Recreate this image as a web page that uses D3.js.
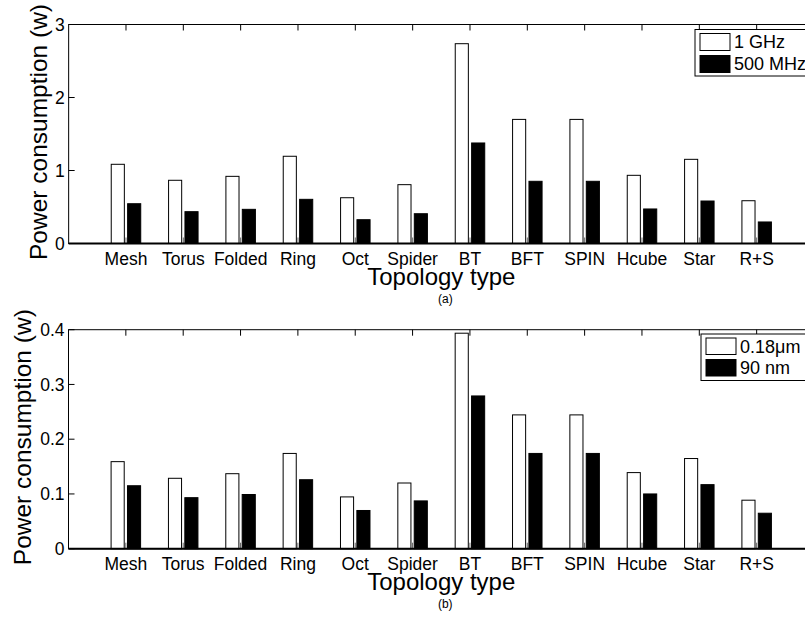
<!DOCTYPE html>
<html>
<head>
<meta charset="utf-8">
<script src="https://cdn.jsdelivr.net/npm/d3@7"></script>
<style>
  html, body { margin: 0; padding: 0; background: #fff; overflow: hidden; }
  svg { display: block; font-family: "Liberation Sans", Arial, Helvetica, sans-serif; }
</style>
</head>
<body>
<svg id="chart" width="805" height="619"></svg>
<script>
// ---- data ----
const categories = ["Mesh", "Torus", "Folded", "Ring", "Oct", "Spider", "BT", "BFT", "SPIN", "Hcube", "Star", "R+S"];
const power1GHz   = [1.085, 0.866, 0.92, 1.195, 0.627, 0.806, 2.737, 1.70, 1.70, 0.934, 1.153, 0.586];
const power500MHz = [0.545, 0.436, 0.468, 0.605, 0.326, 0.408, 1.377, 0.852, 0.852, 0.473, 0.582, 0.295];
const power018um  = [0.159, 0.1286, 0.137, 0.174, 0.0946, 0.120, 0.3936, 0.2444, 0.2444, 0.139, 0.1647, 0.0886];
const power90nm   = [0.115, 0.0932, 0.099, 0.126, 0.0698, 0.0873, 0.279, 0.174, 0.174, 0.100, 0.117, 0.0648];
const ticksA = [0, 1, 2, 3];
const ticksB = [0, 0.1, 0.2, 0.3, 0.4];
const legendA = ["1 GHz", "500 MHz"];
const legendB = ["0.18\u03bcm", "90 nm"];

const svg = d3.select("#chart");

function panel(opt) {
  const g = svg.append("g");
  const x = d3.scaleLinear().domain([0, categories.length + 1]).range([opt.left, opt.right]);
  const y = d3.scaleLinear().domain([0, opt.ymax]).range([opt.bottom, opt.top]);
  const off = 0.1429, bw = 0.2286;
  const series = [opt.s1, opt.s2];
  const fills = ["#fff", "#000"];

  // bars
  series.forEach((s, k) => {
    g.selectAll(null).data(s).enter().append("rect")
      .attr("x", (d, i) => x(i + 1 + (k === 0 ? -off : off) - bw / 2))
      .attr("width", x(bw) - x(0))
      .attr("y", d => y(d))
      .attr("height", d => y(0) - y(d))
      .attr("fill", fills[k])
      .attr("stroke", "#000")
      .attr("stroke-width", 1);
  });

  // x axis ticks (inward, top and bottom)
  const idx = d3.range(1, categories.length + 1);
  g.selectAll(null).data(idx).enter().append("line")
    .attr("x1", d => x(d)).attr("x2", d => x(d))
    .attr("y1", opt.top).attr("y2", opt.top + 6)
    .attr("stroke", "#000").attr("stroke-width", 1);
  g.selectAll(null).data(idx).enter().append("line")
    .attr("x1", d => x(d)).attr("x2", d => x(d))
    .attr("y1", opt.bottom).attr("y2", opt.bottom - 6)
    .attr("stroke", "#666").attr("stroke-width", 1);

  // y ticks (inward)
  g.selectAll(null).data(opt.ticks).enter().append("line")
    .attr("x1", opt.left).attr("x2", opt.left + 6)
    .attr("y1", d => y(d)).attr("y2", d => y(d))
    .attr("stroke", "#000").attr("stroke-width", 1);

  // frame
  g.append("rect")
    .attr("x", opt.left).attr("y", opt.top)
    .attr("width", opt.right - opt.left).attr("height", opt.bottom - opt.top)
    .attr("fill", "none").attr("stroke", "#000").attr("stroke-width", 1);
  g.append("line")
    .attr("x1", opt.left).attr("x2", opt.right)
    .attr("y1", opt.bottom).attr("y2", opt.bottom)
    .attr("stroke", "#000").attr("stroke-width", 2);

  // y tick labels
  g.selectAll(null).data(opt.ticks).enter().append("text")
    .attr("x", opt.left - 4).attr("y", d => y(d))
    .attr("dy", "0.35em")
    .attr("text-anchor", "end")
    .attr("font-size", 17.5)
    .text(d => d3.format("")(d));

  // x tick labels
  g.selectAll(null).data(categories).enter().append("text")
    .attr("x", (d, i) => x(i + 1)).attr("y", opt.bottom + 21.5)
    .attr("text-anchor", "middle")
    .attr("font-size", 17.5)
    .text(d => d);

  // axis titles
  g.append("text")
    .attr("x", (opt.left + opt.right) / 2).attr("y", opt.bottom + 41.5)
    .attr("text-anchor", "middle")
    .attr("font-size", 24)
    .text("Topology type");
  g.append("text")
    .attr("x", (opt.left + opt.right) / 2 + 4).attr("y", opt.bottom + 59)
    .attr("text-anchor", "middle")
    .attr("font-size", 12)
    .text(opt.sub);
  g.append("text")
    .attr("transform", `translate(${opt.ylabX},${(opt.top + opt.bottom) / 2 - 2}) rotate(-90)`)
    .attr("text-anchor", "middle")
    .attr("font-size", 24.5)
    .text("Power consumption (w)");

  // legend
  const lg = g.append("g").attr("transform", `translate(${opt.legX},${opt.legY})`);
  lg.append("rect").attr("x", 0).attr("y", 0).attr("width", 130).attr("height", opt.legH)
    .attr("fill", "#fff").attr("stroke", "#000").attr("stroke-width", 1);
  opt.legend.forEach((name, k) => {
    const ry = 4 + k * opt.legRow;
    lg.append("rect").attr("x", 5).attr("y", ry).attr("width", 30).attr("height", opt.legRow - 5)
      .attr("fill", fills[k]).attr("stroke", "#000").attr("stroke-width", 1);
    lg.append("text").attr("x", 39).attr("y", ry + (opt.legRow - 5) / 2)
      .attr("dy", "0.36em").attr("font-size", 18).text(name);
  });
}

panel({
  left: 68.65, right: 814, top: 24.5, bottom: 243.5, ymax: 3, ylabX: 47,
  ticks: ticksA, s1: power1GHz, s2: power500MHz, sub: "(a)",
  legend: legendA, legX: 695, legY: 29.5, legH: 46.5, legRow: 22
});
panel({
  left: 68.5, right: 814, top: 329.7, bottom: 548.7, ymax: 0.4, ylabX: 31,
  ticks: ticksB, s1: power018um, s2: power90nm, sub: "(b)",
  legend: legendB, legX: 701, legY: 334, legH: 46.5, legRow: 21.5
});
</script>
</body>
</html>
